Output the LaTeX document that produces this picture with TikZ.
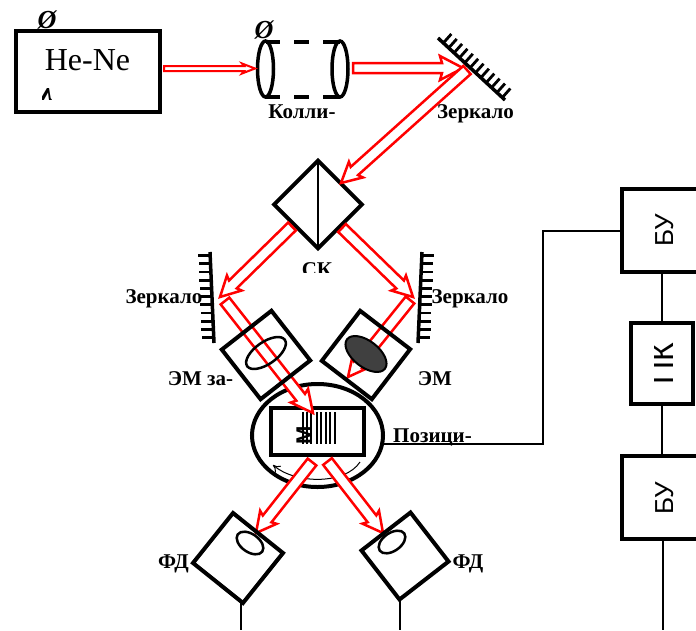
\documentclass[tikz,border=0pt]{standalone}
\usepackage{fontspec}
\setmainfont{Liberation Serif}
\setsansfont{Liberation Sans}
\usetikzlibrary{calc,shapes.geometric,arrows.meta}

% from, to, half width of the body, half width of the head, head length, line width
\newcommand{\beamArrow}[6]{
    \coordinate (neck) at ($(#2)!#5!(#1)$);
    \coordinate (joint) at ($(#2)!#5-2pt!(#1)$);
    \draw[red, fill=white, line width=#6, miter limit=4]
        ($(#1)!#3!90:(#2)$) -- ($(joint)!#3!90:(#2)$) -- ($(neck)!#4!90:(#2)$) -- (#2)
        -- ($(neck)!#4!-90:(#2)$) -- ($(joint)!#3!-90:(#2)$) -- ($(#1)!#3!-90:(#2)$) -- cycle;
}

\begin{document}
\begin{tikzpicture}[x=1pt, y=-1pt,
        boxStyle/.style={draw, line width=4pt, outer sep=0pt, inner sep=0pt},
        lensStyle/.style={draw, ellipse, outer sep=0pt, inner sep=0pt},
        wireStyle/.style={line width=2.5pt},
        tickStyle/.style={line width=2.8pt},
        phiStyle/.style={anchor=base, inner sep=0pt, font=\fontsize{26}{28}\selectfont\bfseries\itshape},
        labelStyle/.style={anchor=base, inner sep=0pt, font=\fontsize{21}{24}\selectfont\bfseries},
        unitStyle/.style={anchor=base, inner sep=0pt, rotate=90, font=\fontsize{26}{30}\sffamily\selectfont}]
    \clip (0,0) rectangle (696,630);

    % laser
    \begin{scope}
        \clip (30,0) rectangle (70,29);
        \node[phiStyle] (phiA) at (47,28) {Ø};
    \end{scope}
    \node[boxStyle, minimum width=144, minimum height=81] (laser) at (88,71) {};
    \node[anchor=base, inner sep=0pt, font=\fontsize{32}{36}\selectfont] (heNe) at (87.5,70) {He-Ne};
    \begin{scope}
        \clip (42,88) rectangle (51,105);
        \node[anchor=base, inner sep=0pt, font=\fontsize{26}{30}\selectfont\bfseries\itshape] (lambda) at (47,100) {λ};
    \end{scope}

    % collimator
    \node[phiStyle] (phiB) at (264,38) {Ø};
    \node[lensStyle, line width=3.5pt, minimum width=16, minimum height=56] (lensA) at (265.5,69) {};
    \node[lensStyle, line width=3.5pt, minimum width=16, minimum height=56] (lensB) at (340,69) {};
    \coordinate (colA) at (266,42);
    \coordinate (colB) at (340,42);
    \coordinate (colC) at (266,97);
    \coordinate (colD) at (340,97);
    \draw[line width=3.5pt, dash pattern=on 14pt off 14pt on 15pt off 14pt on 18pt] (colA) -- (colB);
    \draw[line width=3.5pt, dash pattern=on 14pt off 14pt on 15pt off 14pt on 18pt] (colC) -- (colD);
    \node[labelStyle] (collim) at (302,118) {Колли-};

    % top mirror
    \coordinate (mirA) at (438,38);
    \coordinate (mirB) at (505,100);
    \draw[line width=3.5pt] (mirA) -- (mirB);
    \foreach \t in {0.08,0.16,...,0.98}
        \draw[tickStyle] ($(mirA)!\t!(mirB)$) -- ++(8,-9);
    \node[labelStyle] (mirTop) at (475.5,118) {Зеркало};

    % splitter
    \node[boxStyle, minimum size=62, rotate=45] (cube) at (318,204.5) {};
    \draw[line width=2.2pt] (cube.north east) -- (cube.south west);
    \begin{scope}
        \clip (290,255) rectangle (345,272);
        \node[labelStyle] (ck) at (317,276) {СК};
    \end{scope}

    % side mirrors
    \coordinate (mirC) at (210,252);
    \coordinate (mirD) at (214,343);
    \coordinate (mirE) at (422,252);
    \coordinate (mirF) at (418,343);
    \draw[line width=3.5pt] (mirC) -- (mirD);
    \draw[line width=3.5pt] (mirE) -- (mirF);
    \foreach \t in {0.04,0.13,...,0.95} {
        \draw[tickStyle] ($(mirC)!\t!(mirD)$) -- ++(-12,0);
        \draw[tickStyle] ($(mirE)!\t!(mirF)$) -- ++(12,0);
    }
    \node[labelStyle] (mirLeft) at (164,303) {Зеркало};
    \node[labelStyle] (mirRight) at (470,303) {Зеркало};

    % table with the scale
    \node[draw, ellipse, line width=4pt, outer sep=0pt, inner sep=0pt, minimum width=131, minimum height=103] (table) at (317.5,435.5) {};
    \coordinate (rotA) at (360,462);
    \coordinate (rotB) at (273,465);
    \draw[line width=1pt, -{To[length=7pt,width=9pt]}] (rotA) .. controls (345,485) and (295,484) .. (rotB);
    \node[boxStyle, minimum width=93, minimum height=47] (scale) at (317.5,431.5) {};
    \foreach \x in {303,307,311,317,321,326,330,335}
        \draw[line width=1.6pt] (\x,412) -- (\x,444);
    \node[anchor=center, inner sep=0pt, rotate=90, font=\fontsize{22}{24}\sffamily\bfseries\selectfont] (mark) at (304,435.5) {М};

    % beams
    \coordinate (b1) at (164,68.5);
    \coordinate (b2) at (255,68.5);
    \coordinate (b3) at (353,68);
    \coordinate (b4) at (463,68);
    \coordinate (b5) at (467,70);
    \coordinate (b6) at (341,183);
    \coordinate (b7) at (292,226.5);
    \coordinate (b8) at (220,297);
    \coordinate (b9) at (342,228);
    \coordinate (b10) at (413,297);
    \coordinate (b11) at (410,300);
    \coordinate (b12) at (348,377);
    \coordinate (b13) at (225,301);
    \coordinate (b14) at (313,413);
    \coordinate (b15) at (312,462);
    \coordinate (b16) at (256,533);
    \coordinate (b17) at (327.5,461.5);
    \coordinate (b18) at (383,533);
    \beamArrow{b1}{b2}{2.5pt}{5pt}{13pt}{2pt}
    \beamArrow{b3}{b4}{5pt}{12pt}{23pt}{2.5pt}
    \beamArrow{b5}{b6}{5.5pt}{10.5pt}{20pt}{2.5pt}
    \beamArrow{b7}{b8}{5.5pt}{10.5pt}{20pt}{2.5pt}
    \beamArrow{b9}{b10}{5.5pt}{10.5pt}{20pt}{2.5pt}
    \beamArrow{b11}{b12}{5.5pt}{9pt}{18pt}{2.5pt}
    \beamArrow{b13}{b14}{5.5pt}{11pt}{22pt}{2.5pt}
    \beamArrow{b15}{b16}{5.5pt}{10.5pt}{20pt}{2.5pt}
    \beamArrow{b17}{b18}{5.5pt}{10.5pt}{20pt}{2.5pt}

    % modulators
    \node[boxStyle, minimum size=63, rotate=38] (emLeft) at (266,355) {};
    \node[lensStyle, line width=2.5pt, minimum width=46, minimum height=22, rotate=35] (lensC) at (266,353) {};
    \node[boxStyle, minimum size=63, rotate=-37.5] (emRight) at (366,355) {};
    \node[lensStyle, line width=2pt, fill=black!75, minimum width=48, minimum height=26, rotate=-38] (lensD) at (366,354) {};
    \node[labelStyle] (emA) at (200.5,385) {ЭМ за-};
    \node[labelStyle] (emB) at (435,385) {ЭМ};

    % photodiodes
    \node[boxStyle, minimum size=64, rotate=-38.7] (fdLeft) at (238,558) {};
    \node[lensStyle, line width=2.5pt, minimum width=30, minimum height=18, rotate=-35] (lensE) at (250,543) {};
    \node[boxStyle, minimum size=62, rotate=37.8] (fdRight) at (405,556) {};
    \node[lensStyle, line width=2.5pt, minimum width=30, minimum height=18, rotate=35] (lensF) at (392,542) {};
    \node[labelStyle] (fdA) at (173.5,568) {ФД};
    \node[labelStyle] (fdB) at (468,568) {ФД};
    \coordinate (fdEndA) at (241,630);
    \coordinate (fdEndB) at (400,630);
    \draw[wireStyle] (fdLeft.south east -| fdEndA) -- (fdEndA);
    \draw[wireStyle] (fdRight.south west -| fdEndB) -- (fdEndB);

    % control blocks
    \node[boxStyle, minimum width=82, minimum height=83] (buTop) at (663,230.5) {};
    \node[boxStyle, minimum width=62, minimum height=81] (pk) at (662,363.5) {};
    \node[boxStyle, minimum width=82, minimum height=83] (buBottom) at (663,497.5) {};
    \node[unitStyle] (buTopText) at (673,230) {БУ};
    \begin{scope}
        \clip (654.5,330) rectangle (680,395);
        \node[unitStyle, font=\fontsize{32}{34}\sffamily\selectfont] (pkText) at (673,363.5) {ПК};
    \end{scope}
    \node[unitStyle] (buBottomText) at (673,498) {БУ};
    \coordinate (busEnd) at (663,630);
    \coordinate (wireA) at (543,444);
    \coordinate (wireB) at (543,231);
    \draw[wireStyle] (buTop.south -| pk.north) -- (pk.north);
    \draw[wireStyle] (pk.south) -- (buBottom.north -| pk.south);
    \draw[wireStyle] (buBottom.south -| busEnd) -- (busEnd);
    \draw[wireStyle] (table.east |- wireA) -- (wireA) -- (wireB) -- (buTop.west |- wireB);
    \node[labelStyle] (pos) at (432.5,442) {Позици-};
\end{tikzpicture}
\end{document}
